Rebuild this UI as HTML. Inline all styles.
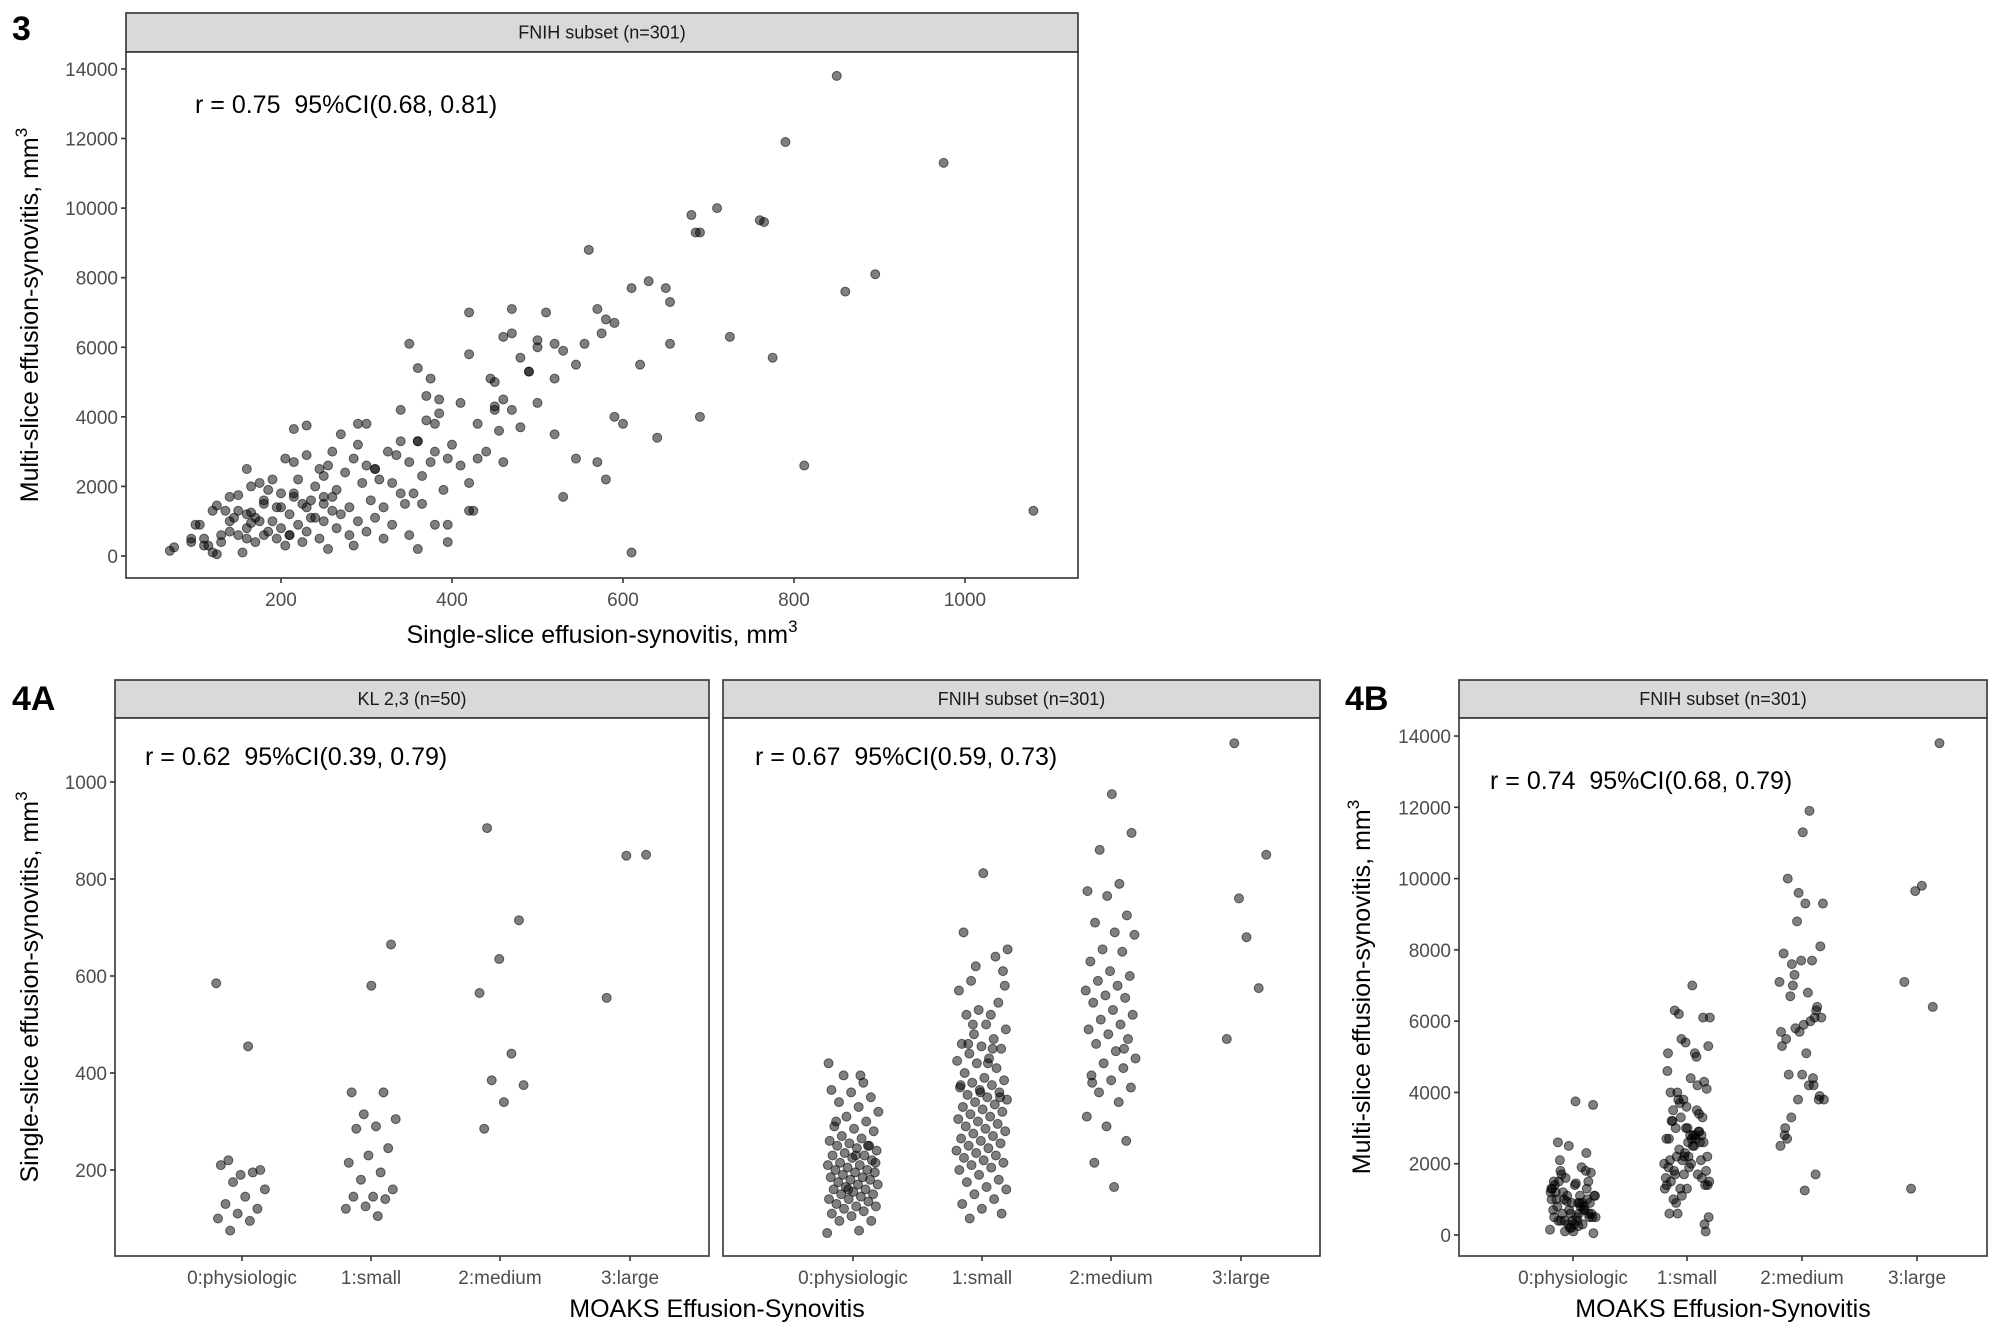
<!DOCTYPE html>
<html><head><meta charset="utf-8">
<style>
html,body{margin:0;padding:0;background:#fff;}
svg{display:block;font-family:"Liberation Sans",Arial,sans-serif;}
</style></head>
<body>
<svg id="fig" width="2000" height="1333" viewBox="0 0 2000 1333" xmlns="http://www.w3.org/2000/svg">
<rect width="2000" height="1333" fill="#fff"/>
<text x="12" y="40" font-size="34" font-weight="bold">3</text>
<text x="12" y="710" font-size="34" font-weight="bold">4A</text>
<text x="1345" y="710" font-size="34" font-weight="bold">4B</text>
</svg>
<script>
// FNIH subset: single-slice, multi-slice, MOAKS grade
const fnihSingle = [70,75,95,95,105,110,115,120,125,125,130,135,140,140,145,150,150,155,160,160,165,170,170,175,180,180,185,185,190,195,195,200,200,205,210,210,215,220,225,230,230,235,240,245,250,250,255,260,265,270,280,285,290,300,310,320,330,340,350,360,365,380,395,215,230,300,250,160,420,395,
100,110,120,130,140,150,160,165,175,180,190,200,205,210,215,220,225,230,235,240,245,250,255,260,265,270,275,280,285,290,295,300,305,310,315,320,325,330,335,340,345,350,355,360,365,370,375,380,385,390,400,410,420,425,430,440,450,455,460,470,480,490,500,520,545,530,570,520,590,610,812,690,640,620,655,420,460,350,360,375,450,500,580,
165,215,260,290,310,340,360,370,385,395,410,420,430,445,460,470,480,490,500,510,520,530,545,555,560,570,580,590,600,610,630,650,655,685,690,710,725,765,775,790,860,895,975,380,450,
1080,850,680,470,575,760];
const fnihMulti = [150,250,400,500,900,500,300,100,50,1450,400,1300,700,1000,1100,600,1750,100,1200,800,950,1100,400,2100,1500,600,700,1900,1000,500,1400,800,1800,300,1200,600,1700,900,400,1400,700,1600,1100,500,1500,1000,200,1300,800,1200,600,300,1000,700,1100,500,900,1800,600,200,1500,900,400,3650,3750,2600,2300,2500,1300,900,
900,300,1300,600,1700,1300,500,2000,1000,1600,2200,1400,2800,600,1800,2200,1500,2900,1100,2000,2500,1700,2600,3000,1900,3500,2400,1400,2800,3200,2100,3800,1600,2500,2200,1400,3000,2100,2900,3300,1500,2700,1800,3300,2300,4600,2700,3800,4100,1900,3200,2600,2100,1300,2800,3000,4300,3600,2700,4200,3700,5300,4400,3500,2800,1700,2700,5100,4000,100,2600,4000,3400,5500,6100,7000,6300,6100,5400,5100,5000,6200,2200,
1250,2700,1700,3800,2500,4200,3300,3900,4500,2800,4400,5800,3800,5100,4500,6400,5700,5300,6000,7000,6100,5900,5500,6100,8800,7100,6800,6700,3800,7700,7900,7700,7300,9300,9300,10000,6300,9600,5700,11900,7600,8100,11300,3000,4200,
1300,13800,9800,7100,6400,9650];
const fnihGrade = [0,0,0,0,0,0,0,0,0,0,0,0,0,0,0,0,0,0,0,0,0,0,0,0,0,0,0,0,0,0,0,0,0,0,0,0,0,0,0,0,0,0,0,0,0,0,0,0,0,0,0,0,0,0,0,0,0,0,0,0,0,0,0,0,0,0,0,0,0,0,
1,1,1,1,1,1,1,1,1,1,1,1,1,1,1,1,1,1,1,1,1,1,1,1,1,1,1,1,1,1,1,1,1,1,1,1,1,1,1,1,1,1,1,1,1,1,1,1,1,1,1,1,1,1,1,1,1,1,1,1,1,1,1,1,1,1,1,1,1,1,1,1,1,1,1,1,1,1,1,1,1,1,1,
2,2,2,2,2,2,2,2,2,2,2,2,2,2,2,2,2,2,2,2,2,2,2,2,2,2,2,2,2,2,2,2,2,2,2,2,2,2,2,2,2,2,2,2,2,
3,3,3,3,3,3];
// KL 2,3 subset
const klSingle = [585,455,220,200,190,210,195,175,160,145,130,120,110,100,95,75,
665,580,360,360,315,305,290,285,245,230,215,195,180,160,145,145,140,125,120,105,
905,715,635,565,440,385,375,340,285,
850,848,555];
const klGrade = [0,0,0,0,0,0,0,0,0,0,0,0,0,0,0,0,
1,1,1,1,1,1,1,1,1,1,1,1,1,1,1,1,1,1,1,1,
2,2,2,2,2,2,2,2,2,
3,3,3];
const categories = ["0:physiologic","1:small","2:medium","3:large"];
const xTicks3 = [200,400,600,800,1000];
const yTicksMulti = [0,2000,4000,6000,8000,10000,12000,14000];
const yTicksSingle = [200,400,600,800,1000];

const NS="http://www.w3.org/2000/svg";
const svg=document.getElementById('fig');
function mk(tag,attrs,parent){const e=document.createElementNS(NS,tag);for(const k in attrs)e.setAttribute(k,attrs[k]);(parent||svg).appendChild(e);return e;}
function jit(i){return (((i*0.6180339)%1)-0.5)*0.4;}

function panel(o){
  const g=mk('g',{});
  
  
  const strip=mk('rect',{x:o.x0,y:o.sy,width:o.x1-o.x0,height:o.py-o.sy,fill:'#d9d9d9',stroke:'#333','stroke-width':1.6},g);
  
  
  const st=mk('text',{x:(o.x0+o.x1)/2,y:(o.sy+o.py)/2+6,'font-size':18,'text-anchor':'middle',fill:'#1a1a1a'},g);
  st.textContent=o.strip;
  
  
  const fr=mk('rect',{x:o.x0,y:o.py,width:o.x1-o.x0,height:o.pb-o.py,fill:'#fff',stroke:'#333','stroke-width':1.6},g);
  
  
  if(o.yticks){
    o.yticks.forEach(v=>{const y=o.ys(v);
      mk('line',{x1:o.x0-5,x2:o.x0,y1:y,y2:y,stroke:'#333','stroke-width':1.6},g);
      const t=mk('text',{x:o.x0-8,y:y+7,'font-size':19,'text-anchor':'end',fill:'#4d4d4d'},g);t.textContent=v;
      
      });
  }
  o.xticks.forEach((v,i)=>{const x=o.xs(v,i);
    mk('line',{x1:x,x2:x,y1:o.pb,y2:o.pb+5,stroke:'#333','stroke-width':1.6},g);
    const t=mk('text',{x:x,y:o.pb+28,'font-size':19,'text-anchor':'middle',fill:'#4d4d4d'},g);t.textContent=o.xlabels?o.xlabels[i]:v;
    
    });
  o.pts.forEach(p=>{const c=mk('circle',{cx:p[0],cy:p[1],r:4.5,fill:'rgba(0,0,0,0.5)',stroke:'rgba(0,0,0,0.55)','stroke-width':1},g);
    
    });
  const a=mk('text',{x:o.ax,y:o.ay,'font-size':25,fill:'#000',style:'white-space:pre'},g);a.textContent=o.annot;
  
  
}
function ytitle(x,y,txt,name){const t=mk('text',{x:0,y:0,'font-size':25,'text-anchor':'middle',transform:`translate(${x},${y}) rotate(-90)`});
  t.innerHTML=txt+', mm<tspan dy="-11" font-size="17">3</tspan>';
  
  }
function xtitle(x,y,txt,sup,name){const t=mk('text',{x:x,y:y,'font-size':25,'text-anchor':'middle'});
  t.innerHTML=sup?txt+', mm<tspan dy="-11" font-size="17">3</tspan>':txt;
  
  }

// Plot 3
const xs3=v=>110+0.855*v, ysM3=v=>556-0.03479*v;
panel({name:'scatter-panel-3',x0:126,x1:1078,sy:13,py:52,pb:578,strip:'FNIH subset (n=301)',
  yticks:yTicksMulti,ys:ysM3,xticks:xTicks3,xs:v=>xs3(v),
  pts:fnihSingle.map((s,i)=>[xs3(s),ysM3(fnihMulti[i])]),ax:195,ay:113,annot:'r = 0.75  95%CI(0.68, 0.81)'});
ytitle(38,315,'Multi-slice effusion-synovitis','y-axis-title-3');
xtitle(602,643,'Single-slice effusion-synovitis',true,'x-axis-title-3');

// 4A
const ysS=v=>1267-0.485*v;
const catL=[242,371,500,630], catM=[853,982,1111,1241], catB=[1573,1687,1802,1917];
const step=129;
panel({name:'strip-panel-4a-kl',x0:115,x1:709,sy:680,py:718,pb:1256,strip:'KL 2,3 (n=50)',
  yticks:yTicksSingle,ys:ysS,xticks:[0,1,2,3],xs:(v)=>catL[v],xlabels:categories,
  pts:klSingle.map((s,i)=>[catL[klGrade[i]]+jit(i)*step,ysS(s)]),ax:145,ay:765,annot:'r = 0.62  95%CI(0.39, 0.79)'});
panel({name:'strip-panel-4a-fnih',x0:723,x1:1320,sy:680,py:718,pb:1256,strip:'FNIH subset (n=301)',
  yticks:null,ys:ysS,xticks:[0,1,2,3],xs:(v)=>catM[v],xlabels:categories,
  pts:fnihSingle.map((s,i)=>[catM[fnihGrade[i]]+jit(i)*step,ysS(s)]),ax:755,ay:765,annot:'r = 0.67  95%CI(0.59, 0.73)'});
ytitle(38,987,'Single-slice effusion-synovitis','y-axis-title-4a');
xtitle(717,1317,'MOAKS Effusion-Synovitis',false,'x-axis-title-4a');

// 4B
const ysB=v=>1235-0.03564*v;
panel({name:'strip-panel-4b',x0:1459,x1:1987,sy:680,py:718,pb:1256,strip:'FNIH subset (n=301)',
  yticks:yTicksMulti,ys:ysB,xticks:[0,1,2,3],xs:(v)=>catB[v],xlabels:categories,
  pts:fnihMulti.map((m,i)=>[catB[fnihGrade[i]]+jit(i)*115,ysB(m)]),ax:1490,ay:789,annot:'r = 0.74  95%CI(0.68, 0.79)'});
ytitle(1370,987,'Multi-slice effusion-synovitis','y-axis-title-4b');
xtitle(1723,1317,'MOAKS Effusion-Synovitis',false,'x-axis-title-4b');
</script>
</body></html>
